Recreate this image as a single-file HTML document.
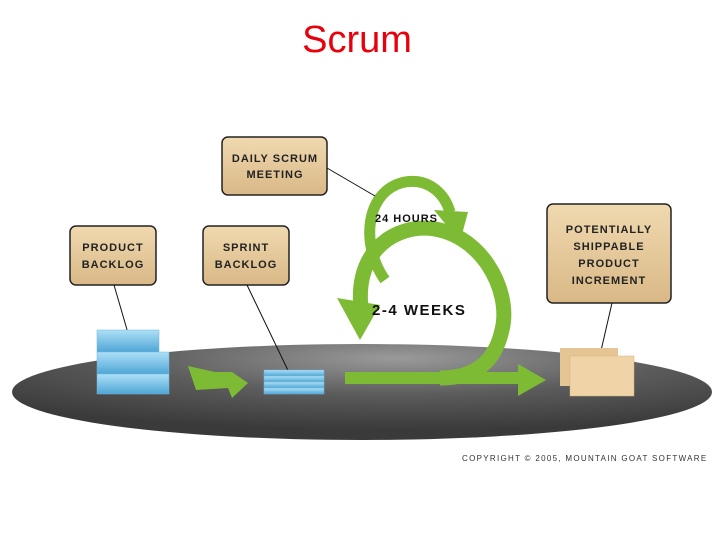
<!DOCTYPE html>
<html><head><meta charset="utf-8"><style>
html,body{margin:0;padding:0;background:#fff}
body{width:720px;height:540px;overflow:hidden;font-family:"Liberation Sans",sans-serif}
</style></head><body>
<svg width="720" height="540" viewBox="0 0 720 540" xmlns="http://www.w3.org/2000/svg">
<defs>
<radialGradient id="fl" cx="0.55" cy="0.15" r="0.75">
<stop offset="0" stop-color="#9a9a9a"/><stop offset="0.5" stop-color="#5c5c5c"/><stop offset="1" stop-color="#3a3a3a"/>
</radialGradient>
<linearGradient id="bx" x1="0" y1="0" x2="0" y2="1">
<stop offset="0" stop-color="#f0d9b0"/><stop offset="1" stop-color="#d9b886"/>
</linearGradient>
<linearGradient id="bl" x1="0" y1="0" x2="0" y2="1">
<stop offset="0" stop-color="#aee0f7"/><stop offset="1" stop-color="#4fa6d6"/>
</linearGradient>
</defs>
<text x="357" y="52" text-anchor="middle" font-size="38" fill="#e8000b">Scrum</text>
<ellipse cx="362" cy="392" rx="350" ry="48" fill="url(#fl)"/>
<g stroke="#222" stroke-width="1.5" fill="url(#bx)">
<rect x="222" y="137" width="105" height="58" rx="6"/>
<rect x="70" y="226" width="86" height="59" rx="6"/>
<rect x="203" y="226" width="86" height="59" rx="6"/>
<rect x="547" y="204" width="124" height="99" rx="6"/>
</g>
<g font-size="11" font-weight="bold" fill="#222" text-anchor="middle" letter-spacing="1">
<text x="275" y="162">DAILY SCRUM</text><text x="275" y="178">MEETING</text>
<text x="113" y="251">PRODUCT</text><text x="113" y="268">BACKLOG</text>
<text x="246" y="251">SPRINT</text><text x="246" y="268">BACKLOG</text>
<text x="609" y="233">POTENTIALLY</text><text x="609" y="250">SHIPPABLE</text><text x="609" y="267">PRODUCT</text><text x="609" y="284">INCREMENT</text>
</g>
<g fill="none" stroke="#7dbb35" stroke-linecap="butt">
<path d="M385 280 C 360 245, 365 190, 405 182 C 430 178, 445 195, 450 212" stroke-width="11"/>
<path d="M362 315 C 352 255, 390 228, 425 228 C 480 230, 512 290, 502 330 C 495 362, 475 378, 440 378" stroke-width="15"/>
<path d="M345 378 L522 378" stroke-width="12"/>
<path d="M195 378 L232 380" stroke-width="12"/>
</g>
<g fill="#7dbb35">
<polygon points="434,210 468,212 460,242"/>
<polygon points="337,298 380,305 360,340"/>
<polygon points="518,364 546,380 518,396"/>
<polygon points="188,366 215,372 232,372 248,383 232,398 228,388 196,390"/>
</g>
<g stroke="#111" stroke-width="1">
<line x1="327" y1="168" x2="375" y2="196"/>
<line x1="114" y1="285" x2="128" y2="333"/>
<line x1="247" y1="285" x2="295" y2="385"/>
<line x1="612" y1="303" x2="600" y2="355"/>
</g>
<g fill="url(#bl)" stroke="#6fb5dc" stroke-width="0.5">
<rect x="97" y="330" width="62" height="22"/>
<rect x="97" y="352" width="72" height="22"/>
<rect x="97" y="374" width="72" height="20"/>
</g>
<g fill="url(#bl)" stroke="#6fb5dc" stroke-width="0.5">
<rect x="264" y="370" width="60" height="6"/>
<rect x="264" y="376" width="60" height="6"/>
<rect x="264" y="382" width="60" height="6"/>
<rect x="264" y="388" width="60" height="6"/>
</g>
<rect x="560" y="348" width="58" height="38" fill="#e6c595"/>
<rect x="570" y="356" width="64" height="40" fill="#f0d4a8" stroke="#d3b07a" stroke-width="0.5"/>
<text x="375" y="222" font-size="11" font-weight="bold" fill="#111" letter-spacing="1">24 HOURS</text>
<text x="372" y="315" font-size="15" font-weight="bold" fill="#111" letter-spacing="1.5">2-4 WEEKS</text>
<text x="462" y="461" font-size="8" fill="#333" letter-spacing="1.3">COPYRIGHT © 2005, MOUNTAIN GOAT SOFTWARE</text>
</svg>
</body></html>
